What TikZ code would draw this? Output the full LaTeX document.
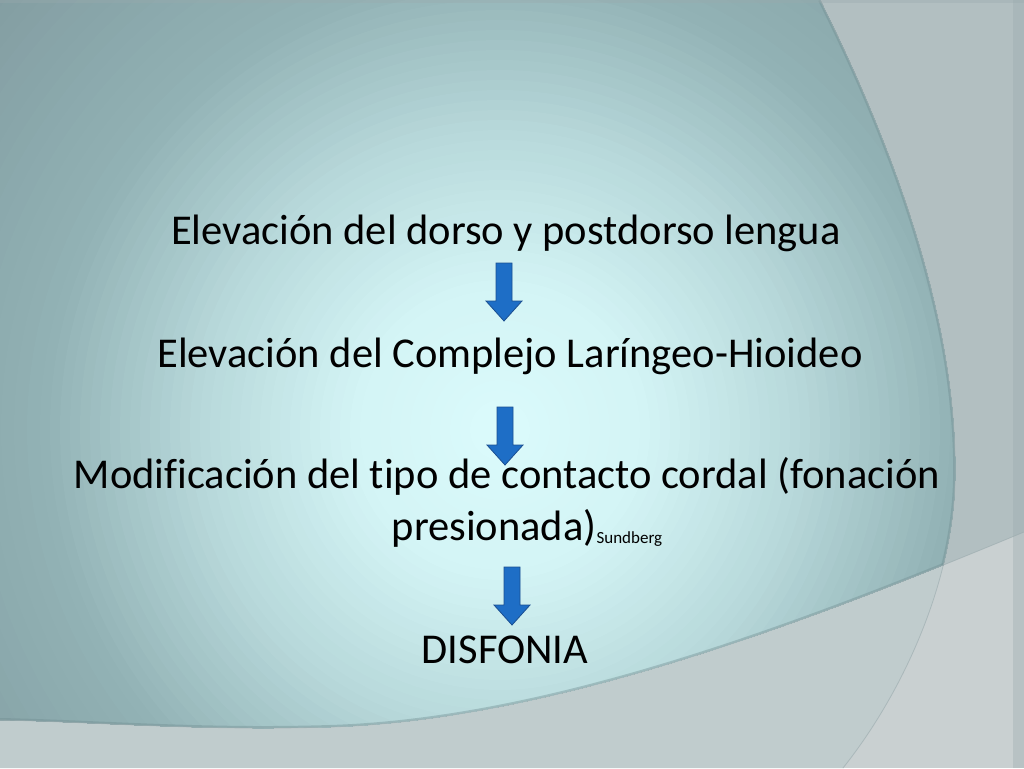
\documentclass[tikz,border=0pt]{standalone}
\usepackage{fontspec}
\setmainfont{Carlito}[RawFeature={-liga}]
\definecolor{cA}{HTML}{7F989D}
\definecolor{cB}{HTML}{92B2B5}
\definecolor{cC}{HTML}{B8D9DB}
\definecolor{cD}{HTML}{D3F4F5}
\definecolor{cE}{HTML}{DBFBFC}
\definecolor{basegray}{HTML}{C9D0D1}
\definecolor{rightgray}{HTML}{B2BFC1}
\definecolor{lowgray}{HTML}{C0CCCD}
\definecolor{edgedark}{HTML}{6F8C90}
\definecolor{edgelight}{HTML}{9AAAAD}
\definecolor{arrowfill}{HTML}{1E6EC6}
\definecolor{arrowline}{HTML}{1B4F91}
\begin{document}
\begin{tikzpicture}[x=1pt,y=-1pt,
  flowtext/.style={anchor=base, font=\fontsize{42.5}{50}\selectfont, text=black, inner sep=0pt},
  blockdown/.pic={\path[draw=arrowline, fill=arrowfill, line width=0.8pt]
     (-8,-29) -- (8,-29) -- (8,9) -- (18,9) -- (0,29) -- (-18,9) -- (-8,9) -- cycle;}
]
\useasboundingbox (0,0) rectangle (1024,768);
% curve end points
\coordinate (rtop) at (820,0);
\coordinate (rmid) at (955,480);
\coordinate (rbot) at (843,768);
\coordinate (bright) at (1024,532);
\coordinate (bmid) at (330,727);
\coordinate (bleft) at (0,720);
% background panels
\fill[basegray] (0,0) rectangle (1024,768);
\fill[rightgray] (0,0) -- (1024,0) -- (bright) .. controls (800,625) and (550,720) .. (bmid) .. controls (200,731) and (100,722) .. (bleft) -- cycle;
\fill[lowgray] (0,768) -- (0,0) -- (rtop) .. controls (900,160) and (958,330) .. (rmid) .. controls (953,580) and (905,690) .. (rbot) -- cycle;
% teal panel with radial gradient
\begin{scope}
  \clip (0,768) -- (0,0) -- (rtop) .. controls (900,160) and (958,330) .. (rmid) .. controls (953,580) and (905,690) .. (rbot) -- cycle;
  \clip (0,0) -- (1024,0) -- (bright) .. controls (800,625) and (550,720) .. (bmid) .. controls (200,731) and (100,722) .. (bleft) -- cycle;
  \foreach \i in {0,...,19}{
    \pgfmathsetmacro\r{720-13*\i}
    \pgfmathtruncatemacro\p{round(100*\i/20)}
    \fill[cB!\p!cA] (500,430) circle[radius=\r pt];
  }
  \foreach \i in {0,...,15}{
    \pgfmathsetmacro\r{460-10*\i}
    \pgfmathtruncatemacro\p{round(100*\i/16)}
    \fill[cC!\p!cB] (500,430) circle[radius=\r pt];
  }
  \foreach \i in {0,...,14}{
    \pgfmathsetmacro\r{300-10*\i}
    \pgfmathtruncatemacro\p{round(100*\i/15)}
    \fill[cD!\p!cC] (500,430) circle[radius=\r pt];
  }
  \foreach \i in {0,...,14}{
    \pgfmathsetmacro\r{150-10*\i}
    \pgfmathtruncatemacro\p{round(100*\i/15)}
    \fill[cE!\p!cD] (500,430) circle[radius=\r pt];
  }
  \draw[edgedark, line width=4pt, opacity=0.4] (rtop) .. controls (900,160) and (958,330) .. (rmid) .. controls (953,580) and (905,690) .. (rbot);
  \draw[edgedark, line width=4pt, opacity=0.4] (bright) .. controls (800,625) and (550,720) .. (bmid) .. controls (200,731) and (100,722) .. (bleft);
\end{scope}
% thin edges over the gray panels
\draw[edgelight, line width=0.8pt, opacity=0.6] (rtop) .. controls (900,160) and (958,330) .. (rmid) .. controls (953,580) and (905,690) .. (rbot);
\draw[edgelight, line width=0.8pt, opacity=0.6] (bright) .. controls (800,625) and (550,720) .. (bmid) .. controls (200,731) and (100,722) .. (bleft);
% frame strips
\fill[edgelight, opacity=0.35] (1013,0) rectangle (1024,768);
\fill[edgelight, opacity=0.35] (0,0) rectangle (1024,3);
% texts
\node[flowtext] (t1) at (506,244) {Elevación del dorso y postdorso lengua};
\node[flowtext] (t2) at (510,367) {Elevación del Complejo Laríngeo-Hioideo};
\node[flowtext] (t3) at (507,488) {Modificación del tipo de contacto cordal (fonación};
\node[flowtext] (t4) at (527,540) {presionada){\fontsize{17}{20}\selectfont\raisebox{-3pt}{Sundberg}}};
\node[flowtext] (t5) at (505,663) {DISFONIA};
% arrows
\pic (a1) at (504,292) {blockdown};
\pic (a2) at (505,436) {blockdown};
\pic (a3) at (512,596) {blockdown};
\end{tikzpicture}
\end{document}
